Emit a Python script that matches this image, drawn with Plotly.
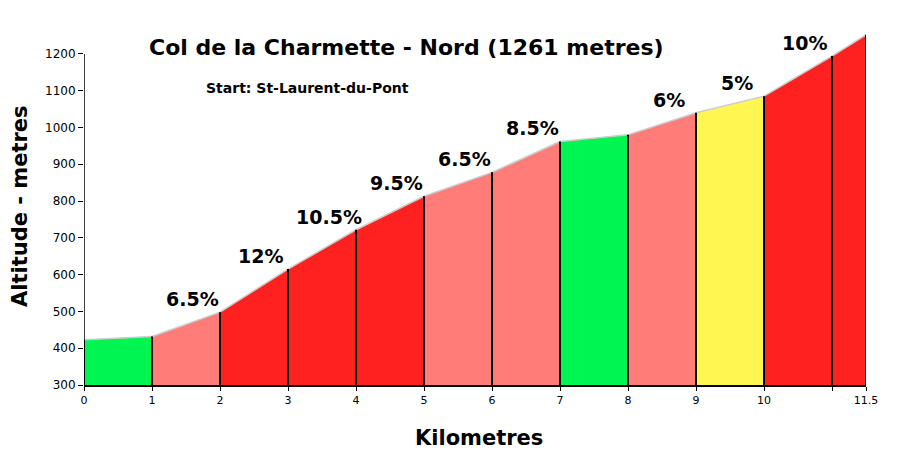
import plotly.graph_objects as go

# profile points (km, altitude in metres)
km = [0, 1, 2, 3, 4, 5, 6, 7, 8, 9, 10, 11, 11.5]
altitude = [423, 432, 498, 615, 722, 813, 878, 962, 980, 1040, 1085, 1194, 1252]
seg_colour = ['green', 'salmon', 'red', 'red', 'red', 'salmon', 'salmon',
              'green', 'salmon', 'yellow', 'red', 'red']
seg_label = ['', '6.5%', '12%', '10.5%', '9.5%', '6.5%', '8.5%',
             '', '6%', '5%', '10%', '']

palette = {
    'green': 'rgb(0,245,80)',
    'salmon': 'rgb(255,124,120)',
    'red': 'rgb(255,32,32)',
    'yellow': 'rgb(255,246,82)',
}

# the page body adds an 8px offset, so margins are shifted to compensate
OFF = 8
W, H = 920, 458
L, R, T, B = 84 - OFF, 54 + OFF, 30 - OFF, 73 + OFF


def px_x(p):
    return (p - OFF - L) / (W - L - R)


def px_y(p):
    return (H - B - (p - OFF)) / (H - T - B)


fig = go.Figure()

for i in range(len(km) - 1):
    fig.add_trace(go.Scatter(
        x=[km[i], km[i + 1]], y=[altitude[i], altitude[i + 1]],
        mode='lines', fill='tozeroy', fillcolor=palette[seg_colour[i]],
        line=dict(color='rgb(205,205,205)', width=1.5),
        hoverinfo='skip', showlegend=False,
    ))

# black separators at each kilometre
vx, vy = [], []
for x, a in zip(km, altitude):
    vx += [x, x, None]
    vy += [300, a, None]
fig.add_trace(go.Scatter(x=vx, y=vy, mode='lines',
                         line=dict(color='black', width=2),
                         hoverinfo='skip', showlegend=False))

for i, lab in enumerate(seg_label):
    if lab:
        fig.add_annotation(x=(km[i] + km[i + 1]) / 2 + 0.1, y=altitude[i + 1] + 36,
                           text=f'<b>{lab}</b>', showarrow=False,
                           font=dict(size=19, color='black'))

# titles placed in pixel terms on the page
texts = [
    ('<b>Col de la Charmette - Nord (1261 metres)</b>', 406, 47, 22, 0),
    ('<b>Start: St-Laurent-du-Pont</b>', 307, 88, 14, 0),
    ('<b>Kilometres</b>', 479, 438, 21, 0),
    ('<b>Altitude - metres</b>', 20, 206, 21, -90),
]
for txt, x, y, size, ang in texts:
    fig.add_annotation(text=txt, x=px_x(x), y=px_y(y), xref='paper', yref='paper',
                       showarrow=False, textangle=ang, xanchor='center', yanchor='middle',
                       font=dict(size=size, color='black'))

# y axis line only up to 1200
fig.add_shape(type='line', x0=0, x1=0, y0=300, y1=1200, xref='x', yref='y',
              line=dict(color='black', width=1.5))

fig.update_layout(
    width=W, height=H,
    margin=dict(l=L, r=R, t=T, b=B, autoexpand=False),
    plot_bgcolor='white', paper_bgcolor='white',
    font=dict(family='DejaVu Sans', color='black'),
    xaxis=dict(range=[0, 11.5], tickvals=km, ticktext=[str(k) if k != 11 else '' for k in km],
               showgrid=False, zeroline=False, showline=True, linecolor='black', linewidth=1.5,
               ticks='outside', ticklen=4, tickcolor='black', tickfont=dict(size=11),
               automargin=False),
    yaxis=dict(range=[300, 1265], tickvals=list(range(300, 1201, 100)),
               showgrid=False, zeroline=False, showline=False,
               ticks='outside', ticklen=5, tickcolor='black', tickfont=dict(size=12),
               automargin=False),
)

fig.write_html('out.html')
